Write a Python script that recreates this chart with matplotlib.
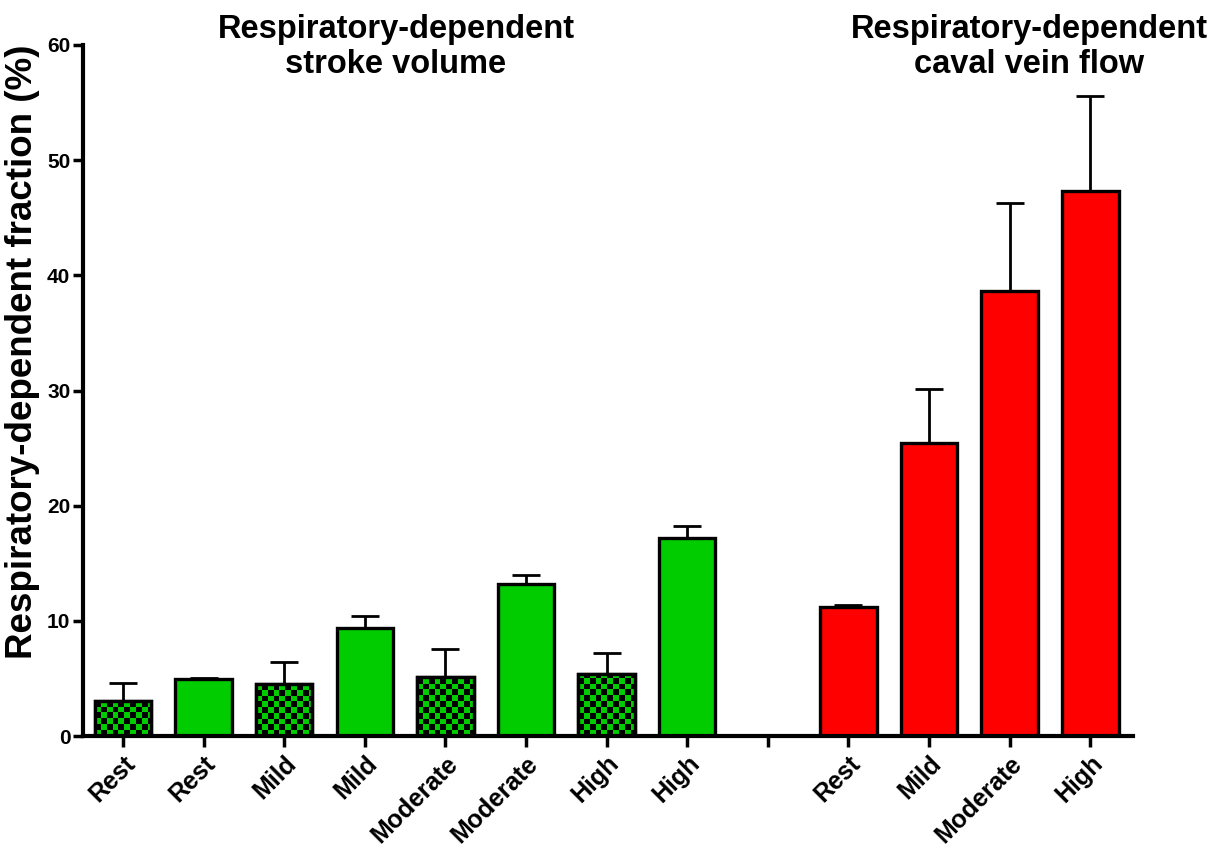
import numpy as np
import matplotlib.pyplot as plt
from matplotlib.colors import ListedColormap

plt.rcParams['font.family'] = ['Liberation Sans', 'DejaVu Sans']
plt.rcParams['font.weight'] = 'bold'

# bar order along the x axis (position 8 is an empty gap)
labels = ['Rest', 'Rest', 'Mild', 'Mild', 'Moderate', 'Moderate', 'High', 'High',
          '', 'Rest', 'Mild', 'Moderate', 'High']
positions = [0, 1, 2, 3, 4, 5, 6, 7, 9, 10, 11, 12]
values = [3.05, 4.95, 4.5, 9.4, 5.15, 13.2, 5.4, 17.2, 11.2, 25.4, 38.6, 47.3]
errors = [1.55, 0.05, 1.95, 1.05, 2.4, 0.8, 1.85, 1.05, 0.15, 4.75, 7.7, 8.3]
colors = ['#00cc00'] * 8 + ['#ff0000'] * 4
checkered = [True, False, True, False, True, False, True, False, False, False, False, False]

fig = plt.figure(figsize=(12.17, 8.48), dpi=100)
ax = fig.add_axes([0.068, 0.132, 0.863, 0.815])

bars = ax.bar(positions, values, width=0.7, color=colors, edgecolor='black',
              linewidth=2.4, zorder=2)
ax.errorbar(positions, values, yerr=[np.zeros(len(values)), errors], fmt='none',
            ecolor='black', elinewidth=2, capsize=10, capthick=2, zorder=1)

ax.set_xlim(-0.5, 12.53)
ax.set_ylim(0, 60)

# checkered fill for the dotted bars
sq_x, sq_y = 0.072, 0.5
for bar, chk in zip(bars, checkered):
    if not chk:
        continue
    x0, w, h = bar.get_x(), bar.get_width(), bar.get_height()
    nc = int(np.ceil(w / sq_x))
    nr = int(np.ceil(h / sq_y))
    img = (np.add.outer(np.arange(nr), np.arange(nc)) % 2).astype(float)
    im = ax.imshow(img, cmap=ListedColormap(['#00cc00', 'black']),
                   extent=(x0, x0 + nc * sq_x, 0, nr * sq_y), origin='lower',
                   aspect='auto', interpolation='nearest', zorder=2.5)
    im.set_clip_path(bar)
    ax.bar(bar.get_x() + w / 2, h, width=w, fill=False, edgecolor='black',
           linewidth=2.4, zorder=3)

ax.set_xticks(range(13))
ax.set_xticklabels(labels, rotation=45, ha='right', rotation_mode='anchor',
                   fontsize=18, fontweight='bold')
ax.set_yticks(range(0, 61, 10))
ax.tick_params(axis='y', labelsize=15, width=2.5, length=7, pad=2)
ax.tick_params(axis='x', width=2.5, length=8, pad=3)
for lab in ax.get_yticklabels():
    lab.set_fontweight('bold')

for s in ['top', 'right']:
    ax.spines[s].set_visible(False)
for s in ['left', 'bottom']:
    ax.spines[s].set_linewidth(3)

ax.set_ylabel('Respiratory-dependent fraction (%)', fontsize=26.5, fontweight='bold')
ax.yaxis.set_label_coords(-0.041, 0.556)

fig.text(396 / 1217, 1 - 14 / 848, 'Respiratory-dependent\nstroke volume', ha='center',
         va='top', fontsize=23.5, fontweight='bold', linespacing=1.15)
fig.text(1029 / 1217, 1 - 14 / 848, 'Respiratory-dependent\ncaval vein flow', ha='center',
         va='top', fontsize=23.5, fontweight='bold', linespacing=1.15)

fig.savefig('out.png', dpi=100)
